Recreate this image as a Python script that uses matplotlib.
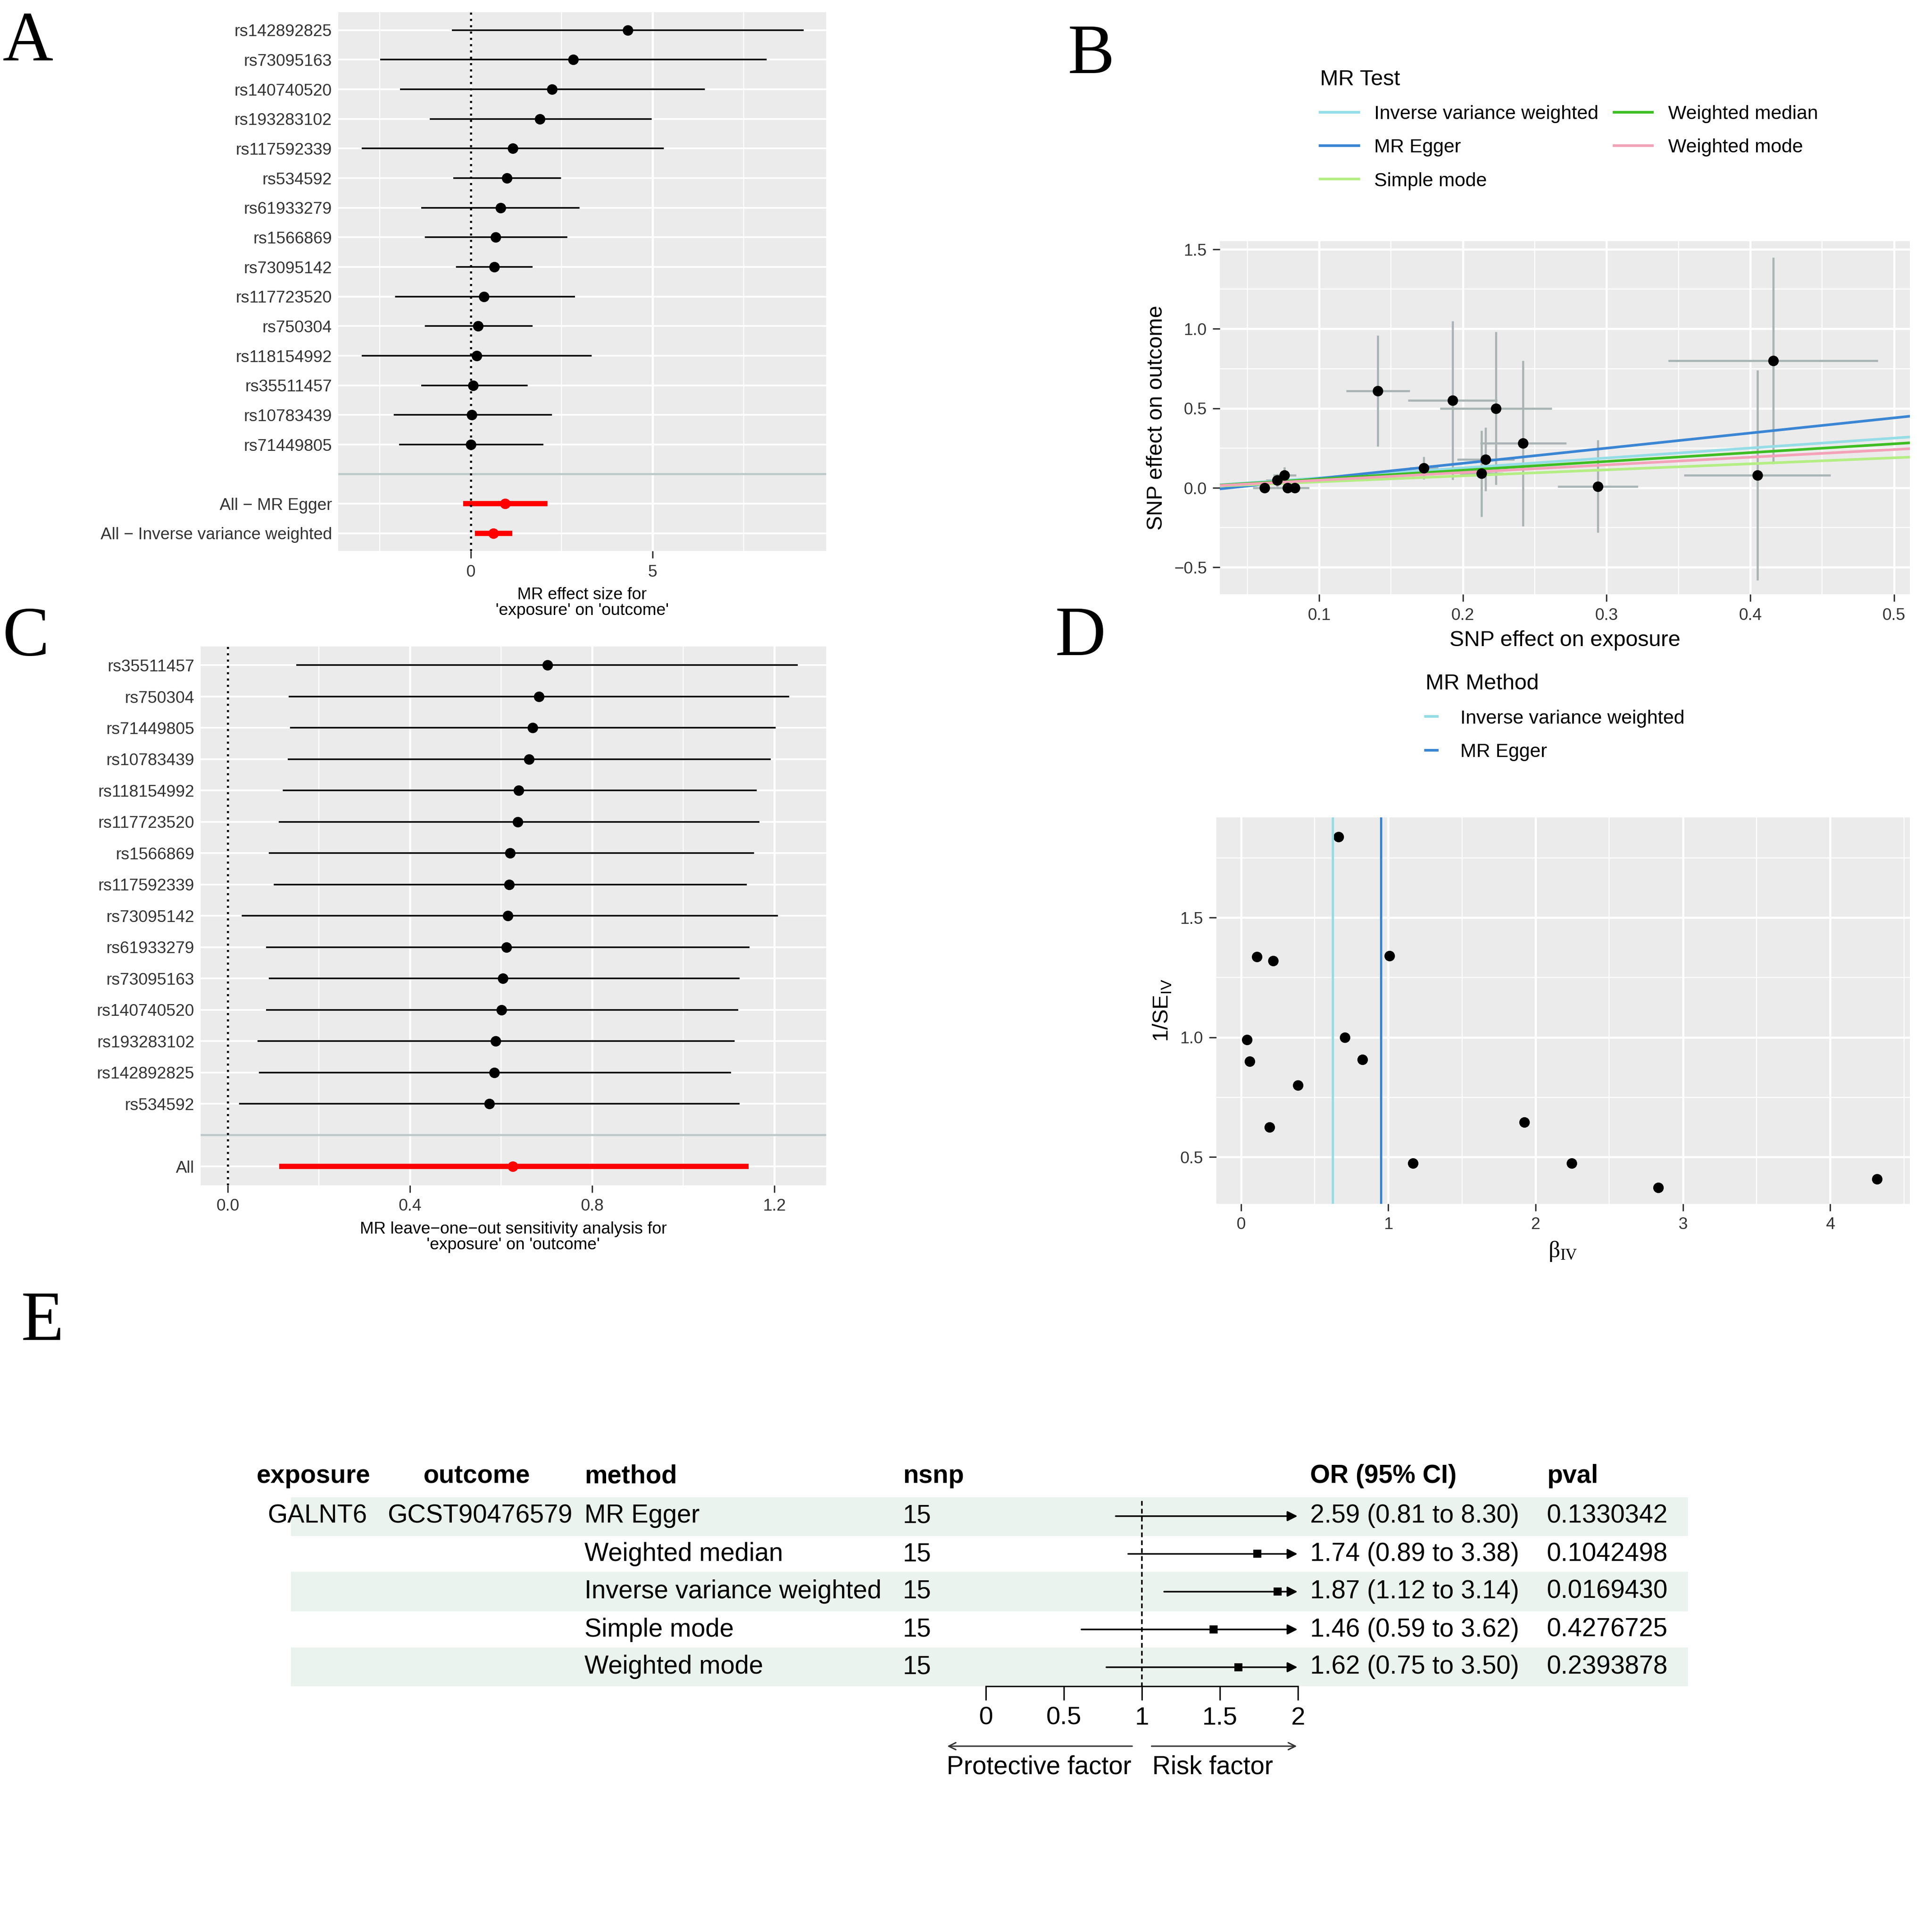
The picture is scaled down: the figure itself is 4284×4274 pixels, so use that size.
import matplotlib
matplotlib.use("Agg")
import matplotlib.pyplot as plt
import numpy as np
from matplotlib.lines import Line2D

plt.rcParams['font.family'] = ['Liberation Sans', 'DejaVu Sans']

# ---------------- data ----------------
snps_a = ["rs142892825","rs73095163","rs140740520","rs193283102","rs117592339","rs534592",
          "rs61933279","rs1566869","rs73095142","rs117723520","rs750304","rs118154992",
          "rs35511457","rs10783439","rs71449805"]
b_a  = [4.32,2.82,2.24,1.90,1.16,0.99,0.82,0.68,0.65,0.37,0.20,0.17,0.07,0.03,0.00]
lo_a = [-0.51,-2.48,-1.94,-1.12,-2.99,-0.48,-1.36,-1.26,-0.41,-2.07,-1.26,-2.99,-1.36,-2.11,-1.97]
hi_a = [9.15,8.13,6.43,4.97,5.31,2.48,2.99,2.65,1.70,2.86,1.70,3.33,1.56,2.24,2.00]
all_labels_a = ["All \u2212 MR Egger","All \u2212 Inverse variance weighted"]
all_b  = [0.952,0.626]
all_lo = [-0.211,0.113]
all_hi = [2.116,1.144]

snps_c = ["rs35511457","rs750304","rs71449805","rs10783439","rs118154992","rs117723520",
          "rs1566869","rs117592339","rs73095142","rs61933279","rs73095163","rs140740520",
          "rs193283102","rs142892825","rs534592"]
b_c  = [0.702,0.683,0.669,0.661,0.639,0.637,0.620,0.618,0.615,0.612,0.604,0.601,0.588,0.585,0.574]
lo_c = [0.150,0.133,0.136,0.131,0.120,0.112,0.090,0.101,0.030,0.084,0.090,0.084,0.065,0.068,0.024]
hi_c = [1.252,1.233,1.203,1.192,1.162,1.168,1.156,1.140,1.208,1.146,1.124,1.121,1.113,1.105,1.124]
c_all = [0.626,0.113,1.144]

bx   = [0.062,0.071,0.076,0.078,0.083,0.141,0.193,0.223,0.242,0.216,0.213,0.173,0.294,0.416,0.405]
by   = [0.000,0.047,0.080,0.000,0.000,0.610,0.550,0.500,0.280,0.180,0.090,0.125,0.010,0.800,0.080]
bxse = [0.008,0.008,0.008,0.008,0.010,0.022,0.031,0.039,0.030,0.020,0.015,0.010,0.028,0.073,0.051]
byse = [0.030,0.040,0.050,0.030,0.030,0.350,0.500,0.480,0.520,0.200,0.270,0.070,0.290,0.650,0.660]
methods_b = ["Inverse variance weighted","MR Egger","Simple mode","Weighted median","Weighted mode"]
slopes_b  = [0.626,0.952,0.378,0.554,0.482]
ints_b    = [0.0,-0.036,0.0,0.0,0.0]
colors_b  = ["#95DDE6","#3A86D4","#B4EE84","#3DBE22","#F4A2B8"]

beta_iv = [0.664,0.109,0.218,1.008,0.042,0.059,0.706,0.824,0.387,0.193,1.924,1.168,2.244,2.832,4.319]
inv_se  = [1.837,1.336,1.320,1.341,0.990,0.900,1.000,0.907,0.800,0.625,0.646,0.475,0.475,0.372,0.408]
d_lines = [0.622,0.950]

e_methods = ["MR Egger","Weighted median","Inverse variance weighted","Simple mode","Weighted mode"]
e_or  = [2.59,1.74,1.87,1.46,1.62]
e_lo  = [0.81,0.89,1.12,0.59,0.75]
e_hi  = [8.30,3.38,3.14,3.62,3.50]
e_p   = ["0.1330342","0.1042498","0.0169430","0.4276725","0.2393878"]
e_nsnp = [15]*5

# ---------------- figure ----------------
W, H = 1560.0, 1556.0
fig = plt.figure(figsize=(15.3, 15.265), dpi=280)
def rect(x0, x1, y0, y1):
    return [x0/W, 1-y1/H, (x1-x0)/W, (y1-y0)/H]
def fx(x): return x/W
def fy(y): return 1-y/H

BG = "#EBEBEB"
TK = 9.5
def style(ax):
    ax.set_facecolor(BG)
    for s in ax.spines.values(): s.set_visible(False)
    ax.tick_params(colors="#333333", labelsize=TK, length=4, color="#333333")
    ax.set_axisbelow(True)

# Panel A
axA = fig.add_axes(rect(273, 667, 10, 445))
style(axA)
ya = np.arange(1, 16)
for v in [-2.5, 2.5, 7.5]: axA.axvline(v, color="white", lw=0.6)
for v in [0, 5]: axA.axvline(v, color="white", lw=1.2)
for y in list(ya)+[17,18]: axA.axhline(y, color="white", lw=1.0)
axA.hlines(ya, lo_a, hi_a, color="black", lw=0.9)
axA.plot(b_a, ya, 'o', color="black", ms=5)
axA.axhline(16, color="#BFC9C9", lw=1.2)
axA.hlines([17,18], all_lo, all_hi, color="red", lw=3)
axA.plot(all_b, [17,18], 'o', color="red", ms=5)
axA.axvline(0, color="black", ls=(0,(1,2)), lw=1.2)
axA.set_xlim(-3.64, 9.76); axA.set_ylim(18.6, 0.4)
axA.set_yticks(list(ya)+[17,18]); axA.set_yticklabels(snps_a+all_labels_a)
axA.set_xticks([0,5])
axA.set_xlabel("MR effect size for\n'exposure' on 'outcome'", fontsize=9.5, linespacing=1.0)
axA.tick_params(axis='y', length=0)

# Panel C
axC = fig.add_axes(rect(162, 667, 522, 957))
style(axC)
yc = np.arange(1, 16)
for v in [0.2, 0.6, 1.0]: axC.axvline(v, color="white", lw=0.6)
for v in [0, 0.4, 0.8, 1.2]: axC.axvline(v, color="white", lw=1.2)
for y in list(yc)+[17]: axC.axhline(y, color="white", lw=1.0)
axC.hlines(yc, lo_c, hi_c, color="black", lw=0.9)
axC.plot(b_c, yc, 'o', color="black", ms=5)
axC.axhline(16, color="#BFC9C9", lw=1.2)
axC.hlines([17], [c_all[1]], [c_all[2]], color="red", lw=3)
axC.plot([c_all[0]], [17], 'o', color="red", ms=5)
axC.axvline(0, color="black", ls=(0,(1,2)), lw=1.2)
axC.set_xlim(-0.06, 1.314); axC.set_ylim(17.6, 0.4)
axC.set_yticks(list(yc)+[17]); axC.set_yticklabels(snps_c+["All"])
axC.set_xticks([0,0.4,0.8,1.2]); axC.set_xticklabels(["0.0","0.4","0.8","1.2"])
axC.set_xlabel("MR leave\u2212one\u2212out sensitivity analysis for\n'exposure' on 'outcome'", fontsize=9.5, linespacing=1.0)
axC.tick_params(axis='y', length=0)

# Panel B
axB = fig.add_axes(rect(985, 1542, 195, 480))
style(axB)
axB.set_xlim(0.031, 0.511); axB.set_ylim(-0.67, 1.55)
axB.set_xticks([0.1,0.2,0.3,0.4,0.5]); axB.set_xticklabels(["0.1","0.2","0.3","0.4","0.5"])
axB.set_yticks([-0.5,0,0.5,1.0,1.5]); axB.set_yticklabels(["\u22120.5","0.0","0.5","1.0","1.5"])
axB.set_xticks([0.05,0.15,0.25,0.35,0.45], minor=True)
axB.set_yticks([-0.25,0.25,0.75,1.25], minor=True)
axB.tick_params(which='minor', length=0)
axB.grid(which='major', color="white", lw=1.2)
axB.grid(which='minor', color="white", lw=0.6)
axB.errorbar(bx, by, xerr=bxse, yerr=byse, fmt='none', ecolor="#A9B3B3", elinewidth=1.2)
xx = np.array([0.031, 0.511])
for m, s, i, c in zip(methods_b, slopes_b, ints_b, colors_b):
    axB.plot(xx, i + s*xx, color=c, lw=1.5)
axB.plot(bx, by, 'o', color="black", ms=5)
axB.set_xlabel("SNP effect on exposure", fontsize=12.5)
axB.set_ylabel("SNP effect on outcome", fontsize=12.5)
hB = [Line2D([0],[0], color=c, lw=1.5) for c in colors_b]
legB = fig.legend(hB, methods_b, loc="upper left", bbox_to_anchor=(fx(1052), fy(42)),
                  ncol=2, frameon=False, fontsize=11, title="MR Test", title_fontsize=12.5,
                  handlelength=2.0, columnspacing=0.8, labelspacing=0.8)
legB._legend_box.align = "left"

# Panel D
axD = fig.add_axes(rect(982, 1542, 660, 972))
style(axD)
axD.set_xlim(-0.168, 4.54); axD.set_ylim(0.305, 1.919)
axD.set_xticks([0,1,2,3,4]); axD.set_yticks([0.5,1.0,1.5])
axD.set_xticks([0.5,1.5,2.5,3.5,4.5], minor=True); axD.set_yticks([0.75,1.25,1.75], minor=True)
axD.tick_params(which='minor', length=0)
axD.grid(which='major', color="white", lw=1.2)
axD.grid(which='minor', color="white", lw=0.6)
axD.plot(beta_iv, inv_se, 'o', color="black", ms=5)
axD.axvline(d_lines[0], color=colors_b[0], lw=1.3)
axD.axvline(d_lines[1], color=colors_b[1], lw=1.3)
axD.set_xlabel(r"$\mathregular{\beta_{IV}}$", fontsize=13, family="Liberation Serif")
axD.set_ylabel(r"1/SE$_{\mathregular{IV}}$", fontsize=12.5)
hD = [Line2D([0],[0], color=c, lw=1.5) for c in colors_b[:2]]
legD = fig.legend(hD, methods_b[:2], loc="upper left", bbox_to_anchor=(fx(1137), fy(530)),
                  frameon=False, fontsize=11, title="MR Method", title_fontsize=12.5,
                  handlelength=0.6, labelspacing=0.8, handletextpad=1.2)
legD._legend_box.align = "left"

# Panel E
axE = fig.add_axes(rect(235, 1363, 1209, 1361.5))
axE.set_xlim((235-796)/126.0, (1363-796)/126.0)
axE.set_ylim(5.5, 0.5)
for s in ["top","left","right"]: axE.spines[s].set_visible(False)
axE.spines["bottom"].set_bounds(0, 2)
axE.set_xticks([0,0.5,1,1.5,2]); axE.set_xticklabels(["0","0.5","1","1.5","2"])
axE.tick_params(axis='x', labelsize=14.5, length=8)
axE.set_yticks([])
axE.patch.set_alpha(0)
for i in [1,3,5]:
    axE.axhspan(i-0.5, i+0.5, color="#EBF3EF", zorder=0)
rows = np.arange(1, 6)
for r, o, l, h in zip(rows, e_or, e_lo, e_hi):
    axE.annotate("", xy=(2.02, r), xytext=(l, r),
                 arrowprops=dict(arrowstyle="-|>", color="black", lw=0.9, mutation_scale=12))
    if o <= 2:
        axE.plot([o], [r], 's', color="black", ms=3.5)
axE.plot([1,1], [0.6,5.5], color="black", ls=(0,(3,2)), lw=0.9)

fs = 14.6
ytext = [1224,1255,1285,1316,1346]
for t, x in [("exposure",207),("outcome",342),("method",472),("nsnp",729),("OR (95% CI)",1058),("pval",1249)]:
    fig.text(fx(x), fy(1192), t, fontsize=fs, fontweight="bold", va="center")
fig.text(fx(216), fy(ytext[0]), "GALNT6", fontsize=fs, va="center")
fig.text(fx(313), fy(ytext[0]), "GCST90476579", fontsize=fs, va="center")
for y, m, n, o, l, h, p in zip(ytext, e_methods, e_nsnp, e_or, e_lo, e_hi, e_p):
    fig.text(fx(472), fy(y), m, fontsize=fs, va="center")
    fig.text(fx(729), fy(y), str(n), fontsize=fs, va="center")
    fig.text(fx(1058), fy(y), f"{o:.2f} ({l:.2f} to {h:.2f})", fontsize=fs, va="center")
    fig.text(fx(1249), fy(y), p, fontsize=fs, va="center")
fig.patches.append(matplotlib.patches.FancyArrowPatch((fx(917), fy(1410)), (fx(762), fy(1410)),
    transform=fig.transFigure, arrowstyle="->", mutation_scale=10, lw=0.8, color="#333333"))
fig.patches.append(matplotlib.patches.FancyArrowPatch((fx(927), fy(1410)), (fx(1050), fy(1410)),
    transform=fig.transFigure, arrowstyle="->", mutation_scale=10, lw=0.8, color="#333333"))
fig.text(fx(839), fy(1427), "Protective factor", fontsize=fs, ha="center", va="center")
fig.text(fx(979), fy(1427), "Risk factor", fontsize=fs, ha="center", va="center")

# Panel labels
for t, x, y in [("A",2,35),("B",862,45),("C",2,515),("D",852,515),("E",17,1068)]:
    fig.text(fx(x), fy(y), t, fontsize=40, family="Liberation Serif", va="center")

fig.savefig("out.png", dpi=280, facecolor="white")
